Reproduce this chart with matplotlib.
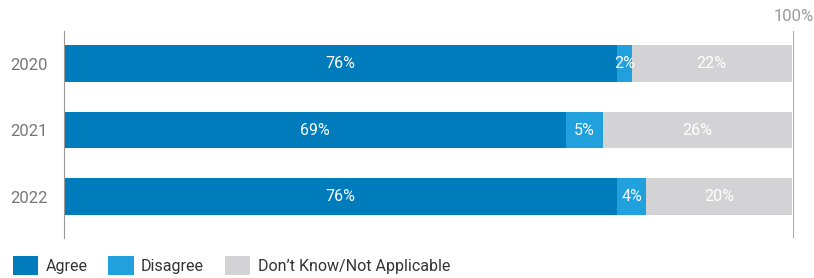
import matplotlib.pyplot as plt
from matplotlib.patches import Patch

plt.rcParams['font.family'] = ['Roboto', 'DejaVu Sans']

years = ['2020', '2021', '2022']
agree = [76, 69, 76]
disagree = [2, 5, 4]
dont_know = [22, 26, 20]
labels = ['Agree', 'Disagree', 'Don\u2019t Know/Not Applicable']
colors = ['#007bbb', '#20a0dc', '#d3d3d5']

fig = plt.figure(figsize=(8.14, 2.78), dpi=100)
ax = fig.add_axes([64 / 814, 40 / 278, 730 / 814, 207 / 278])

y = list(range(len(years)))
left = [0] * len(years)
for vals, col in zip([agree, disagree, dont_know], colors):
    ax.barh(y, vals, left=left, height=0.556, color=col, edgecolor='none')
    for yi, l, v in zip(y, left, vals):
        ax.text(l + v / 2, yi, f'{v}%', ha='center', va='center',
                color='white', fontsize=11.5)
    left = [l + v for l, v in zip(left, vals)]

ax.set_xlim(0, 100.3)
ax.set_ylim(2.624, -0.489)
ax.set_yticks(y)
ax.set_yticklabels(years, fontsize=12, color='#777777')
ax.tick_params(axis='y', length=0, pad=11.5)
ax.set_xticks([])
for s in ['top', 'right', 'bottom']:
    ax.spines[s].set_visible(False)
ax.spines['left'].set_color('#999999')
ax.axvline(100.3, color='#999999', lw=1.2)
ax.text(100.3, -0.7, '100%', ha='center', va='center',
        fontsize=12, color='#999999')

handles = [Patch(facecolor=c, edgecolor='none') for c in colors]
fig.legend(handles, labels, loc='lower left', bbox_to_anchor=(-0.002, -0.04),
           ncol=3, frameon=False, fontsize=11.5, handlelength=1.6,
           handleheight=1.4, handletextpad=0.45, columnspacing=1.3,
           labelcolor='#333333')

fig.savefig('out.png', dpi=100)
